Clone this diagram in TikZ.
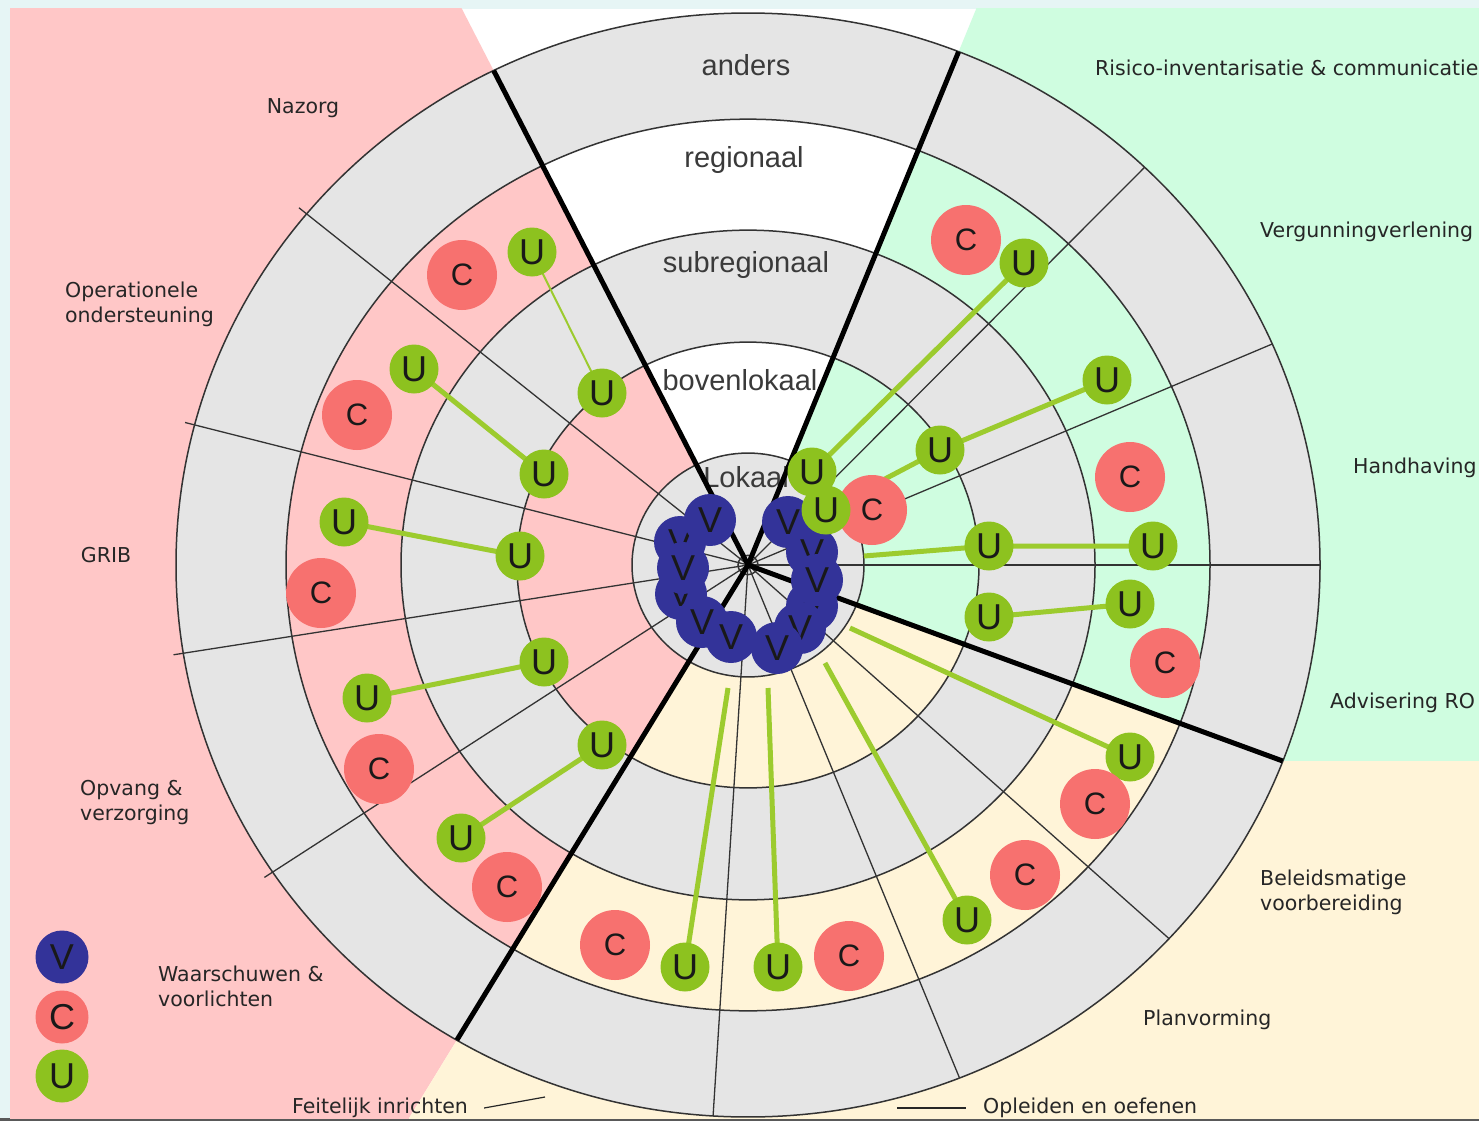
\documentclass[tikz,border=0pt]{standalone}
\usepackage{fontspec}
\setmainfont{DejaVu Sans}
\newfontfamily\arialf{Liberation Sans}
\usetikzlibrary{calc}
\pgfdeclarelayer{back}
\pgfdeclarelayer{mid}
\pgfsetlayers{back,mid,main}
\definecolor{framecol}{HTML}{E6F5F5}
\definecolor{pinkbg}{HTML}{FFC7C7}
\definecolor{greenbg}{HTML}{CFFDE0}
\definecolor{yellowbg}{HTML}{FFF4D8}
\definecolor{ringgray}{HTML}{E5E5E5}
\definecolor{outlinecol}{HTML}{333333}
\definecolor{ringtext}{HTML}{3A3A3A}
\definecolor{ccol}{HTML}{F7716F}
\definecolor{ucol}{HTML}{8DC21F}
\definecolor{vcol}{HTML}{333399}
\definecolor{lcol}{HTML}{9CCB2E}
\tikzset{
  ringline/.style={draw=outlinecol, line width=1.5},
  divider/.style={draw=outlinecol, line width=1.3},
  thickline/.style={draw=black, line width=5},
  conn/.style={draw=lcol, line width=5},
  thinconn/.style={draw=lcol, line width=2},
  cnode/.style={circle, fill=ccol, minimum size=70, inner sep=0, text=black!90, font=\arialf\fontsize{31}{31}\selectfont},
  unode/.style={circle, fill=ucol, minimum size=49, inner sep=0, text=black!90, font=\arialf\fontsize{36}{36}\selectfont},
  vnode/.style={circle, fill=vcol, minimum size=52, inner sep=0, text=black!90, font=\arialf\fontsize{36}{36}\selectfont},
  legnode/.style={circle, minimum size=53, inner sep=0, text=black!90, font=\arialf\fontsize{36}{36}\selectfont},
  ringlabel/.style={text=ringtext, font=\arialf\fontsize{29}{29}\selectfont, inner sep=0},
  seclabel/.style={text=black!85, font=\fontsize{20.5}{25}\selectfont, inner sep=0, align=left},
  leader/.style={draw=black!85, line width=1.2},
}
\begin{document}
\begin{tikzpicture}[x=1pt,y=1pt]
\useasboundingbox (0,0) rectangle (1479,-1121);
\coordinate (O) at (748,-565);
\begin{scope}[shift={(O)}, yscale=0.965]
  \coordinate (TL) at (116.4:572);
  \coordinate (TR) at (68.4:572);
  \coordinate (BR) at (-20.8:572);
  \coordinate (BL) at (239.4:572);
\end{scope}
\begin{pgfonlayer}{back}
  \fill[framecol] (0,0) rectangle (1479,-1121);
  \fill[black!65] (0,-1118) rectangle (1479,-1121);
  \begin{scope}
    \clip (10,-9) rectangle (1479,-1118);
    \fill[white] (10,-9) rectangle (1479,-1118);
    \fill[pinkbg] (O) -- ($(O)!4!(TL)$) -- (-3000,3000) -- (-3000,-3000) -- ($(O)!4!(BL)$) -- cycle;
    \fill[greenbg] (O) -- ($(O)!4!(TR)$) -- (3000,3000) -- ($(BR)+(3000,0)$) -- (BR) -- cycle;
    \fill[yellowbg] (O) -- (BR) -- ($(BR)+(3000,0)$) -- (3000,-3000) -- ($(O)!4!(BL)$) -- cycle;
    \begin{scope}[shift={(O)}, yscale=0.965]
      \fill[ringgray, even odd rule] (0,0) circle[radius=572] (0,0) circle[radius=462]
        (0,0) circle[radius=347] (0,0) circle[radius=231] (0,0) circle[radius=116];
    \end{scope}
    % ring labels
    \node[ringlabel] (lbanders) at (746,-65) {anders};
    \node[ringlabel] (lbregio) at (744,-160) {regionaal};
    \node[ringlabel] (lbsub) at (746,-265) {subregionaal};
    \node[ringlabel] (lbboven) at (740,-380) {bovenlokaal};
    \node[ringlabel] (lblokaal) at (746,-477) {Lokaal};
    \begin{scope}[shift={(O)}, yscale=0.965]
      \foreach \a in {140.5,165.3,189.2,213.8} \draw[divider] (0,0) -- (\a:582);
      \foreach \a in {46.1,23.6,0,-42.6,-68.3,-93.5} \draw[divider] (0,0) -- (\a:572);
      \foreach \r in {116,231,347,462,572} \draw[ringline] (0,0) circle[radius=\r];
      \draw[ringline] (0,0) circle[radius=10];
      \foreach \a in {116.4,68.4,-20.8,239.4} \draw[thickline] (0,0) -- (\a:572);
    \end{scope}
  \end{scope}
\end{pgfonlayer}

% sector labels
\node[seclabel, anchor=center] (nazorg) at (303,-108) {Nazorg};
\node[seclabel, anchor=west] (opond) at (65,-304.5) {Operationele\\ondersteuning};
\node[seclabel, anchor=center] (grib) at (106,-555) {GRIB};
\node[seclabel, anchor=west] (opvang) at (80,-802.5) {Opvang \&\\verzorging};
\node[seclabel, anchor=west] (waarsch) at (158,-986.5) {Waarschuwen \&\\voorlichten};
\node[seclabel, anchor=center] (feit) at (380,-1108) {Feitelijk inrichten};
\node[seclabel, anchor=west] (oplei) at (983,-1108) {Opleiden en oefenen};
\node[seclabel, anchor=west] (planv) at (1143,-1020) {Planvorming};
\node[seclabel, anchor=west] (beleid) at (1260,-892) {Beleidsmatige\\voorbereiding};
\node[seclabel, anchor=west] (advis) at (1330,-703) {Advisering RO};
\node[seclabel, anchor=west] (handh) at (1353,-468) {Handhaving};
\node[seclabel, anchor=west] (vergun) at (1260,-232) {Vergunningverlening};
\node[seclabel, anchor=west] (risico) at (1095,-68) {Risico-inventarisatie \& communicatie};
\coordinate (feitend) at (545,-1097);
\coordinate (opleiend) at (897,-1108);
\draw[leader] ([xshift=16]feit.east) -- (feitend);
\draw[leader] (opleiend) -- ([xshift=-17]oplei.west);

% V cluster
\node[vnode] (v2) at (680,-542) {V};
\node[vnode] (v4) at (681,-594) {V};
\node[vnode] (v3) at (683,-568) {V};
\node[vnode] (v5) at (702,-622) {V};
\node[vnode] (v6) at (731,-637) {V};
\node[vnode] (v1) at (710,-520) {V};
\node[vnode] (v12) at (788,-522) {V};
\node[vnode] (v11) at (812,-552) {V};
\node[vnode] (v9) at (812,-606) {V};
\node[vnode] (v8) at (800,-628) {V};
\node[vnode] (v10) at (817,-580) {V};
\node[vnode] (v7) at (777,-648) {V};

% C nodes
\node[cnode] (pc1) at (462,-275) {C};
\node[cnode] (pc2) at (357,-415) {C};
\node[cnode] (pc3) at (321,-593) {C};
\node[cnode] (pc4) at (379,-769) {C};
\node[cnode] (pc5) at (507,-887) {C};
\node[cnode] (yc2) at (1025,-875) {C};
\node[cnode] (yc3) at (849,-956) {C};
\node[cnode] (yc4) at (615,-945) {C};
\node[cnode] (gc1) at (966,-240) {C};
\node[cnode] (gc2) at (1130,-477) {C};
\node[cnode] (gc3) at (1165,-663) {C};
\node[cnode] (gc4) at (872,-510) {C};

% U nodes
\node[unode] (pu1) at (532,-252) {U};
\node[unode] (pu2) at (602,-393) {U};
\node[unode] (pu3) at (414,-369) {U};
\node[unode] (pu4) at (544,-474) {U};
\node[unode] (pu5) at (344,-522) {U};
\node[unode] (pu6) at (520,-556) {U};
\node[unode] (pu7) at (544,-662) {U};
\node[unode] (pu8) at (367,-698) {U};
\node[unode] (pu9) at (602,-745) {U};
\node[unode] (pu10) at (461,-838) {U};
\node[unode] (yu1) at (1130,-757) {U};
\node[unode] (yu2) at (967,-920) {U};
\node[unode] (yu3) at (778,-967) {U};
\node[unode] (yu4) at (685,-967) {U};
\node[unode] (gu1) at (1024,-263) {U};
\node[unode] (gu2) at (1107,-380) {U};
\node[unode] (gu3) at (940,-450) {U};
\node[unode] (gu4) at (1153,-546) {U};
\node[unode] (gu5) at (989,-546) {U};
\node[unode] (gu6) at (1130,-604) {U};
\node[unode] (gu7) at (989,-617) {U};
\node[unode] (gu11) at (812,-472) {U};
\node[unode] (gu12) at (826,-510) {U};
\node[cnode] (yc1) at (1095,-804) {C};

% free ends of connectors near the inner ring
\coordinate (ys1) at (850,-628);
\coordinate (ys2) at (825,-663);
\coordinate (ys3) at (768,-688);
\coordinate (ys4) at (728,-688);
\coordinate (gs1) at (864,-556);

\begin{pgfonlayer}{mid}
  \draw[thinconn] (pu1.center) -- (pu2.center);
  \draw[conn] (pu3.center) -- (pu4.center);
  \draw[conn] (pu5.center) -- (pu6.center);
  \draw[conn] (pu7.center) -- (pu8.center);
  \draw[conn] (pu9.center) -- (pu10.center);
  \draw[conn] (ys1) -- (yu1.center);
  \draw[conn] (ys2) -- (yu2.center);
  \draw[conn] (ys3) -- (yu3.center);
  \draw[conn] (ys4) -- (yu4.center);
  \draw[conn] (gu1.center) -- (gu11.center);
  \draw[conn] (gu2.center) -- (gu3.center) -- (gu12.center);
  \draw[conn] (gu4.center) -- (gu5.center) -- (gs1);
  \draw[conn] (gu6.center) -- (gu7.center);
\end{pgfonlayer}

% legend
\node[legnode, fill=vcol] (legv) at (62,-957) {V};
\node[legnode, fill=ccol] (legc) at (62,-1017) {C};
\node[legnode, fill=ucol] (legu) at (62,-1076) {U};
\end{tikzpicture}
\end{document}
